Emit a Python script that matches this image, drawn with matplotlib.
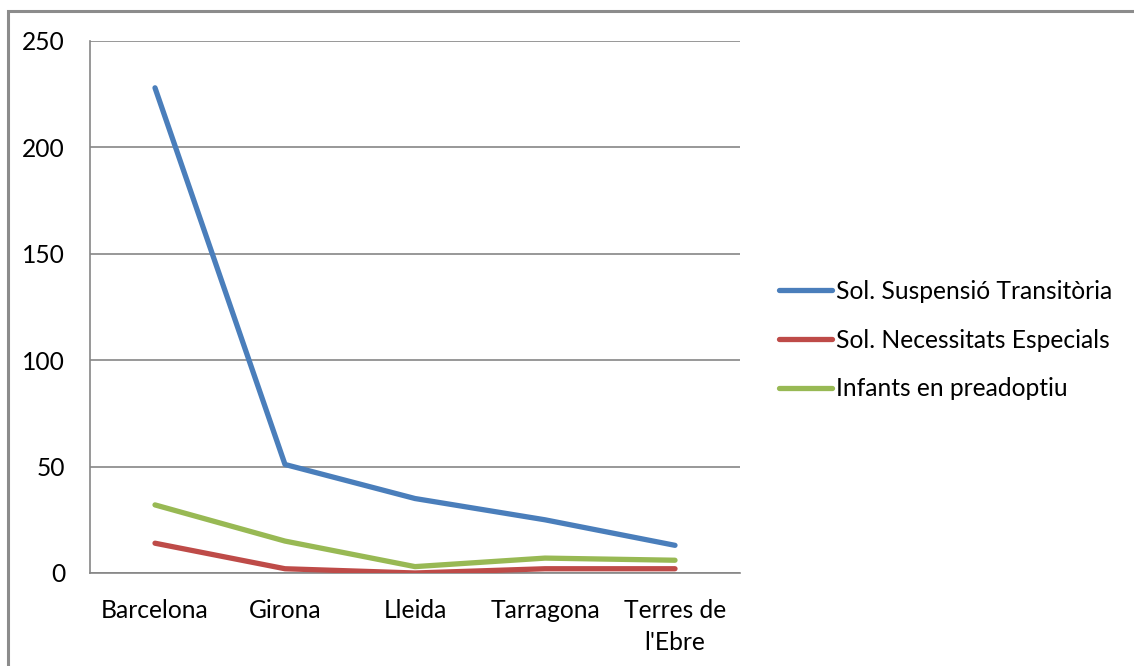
import matplotlib
matplotlib.use("Agg")
import matplotlib.pyplot as plt
from matplotlib.patches import Rectangle

categories = ["Barcelona", "Girona", "Lleida", "Tarragona", "Terres de\nl'Ebre"]
suspensio = [228, 51, 35, 25, 13]
necessitats = [14, 2, 0, 2, 2]
preadoptiu = [32, 15, 3, 7, 6]
series_names = ["Sol. Suspensió Transitòria", "Sol. Necessitats Especials", "Infants en preadoptiu"]
colors = ["#4A7EBB", "#BE4B48", "#98B954"]
yticks = [0, 50, 100, 150, 200, 250]

plt.rcParams['font.family'] = ['Lato', 'DejaVu Sans']
W, H = 1134, 666
FS = 17.7
fig = plt.figure(figsize=(W/100, H/100), dpi=100)
ax = fig.add_axes([90/W, 1 - 573/H, 650/W, 532/H])

# outer border
fig.patches.append(Rectangle((7.5/W, -0.1), 1.2, (H - 11)/H + 0.1, transform=fig.transFigure,
                             fill=False, edgecolor="#8C8C8C", linewidth=2.2, zorder=0))

x = list(range(len(categories)))
lines = []
for vals, name, c in zip([suspensio, necessitats, preadoptiu], series_names, colors):
    l, = ax.plot(x, vals, color=c, linewidth=3.8, solid_capstyle='round', solid_joinstyle='round',
                 label=name, zorder=3)
    lines.append(l)

ax.set_xlim(-0.5, len(categories) - 0.5)
ax.set_ylim(0, 250)
ax.set_yticks(yticks)
ax.set_yticklabels([str(v) for v in yticks])
ax.set_xticks(x)
ax.set_xticklabels(categories, linespacing=1.5)
ax.grid(axis='y', color='#868686', linewidth=1.2, zorder=0)
for s in ['top', 'right']:
    ax.spines[s].set_visible(False)
for s in ['left', 'bottom']:
    ax.spines[s].set_color('#868686')
    ax.spines[s].set_linewidth(1.2)
ax.tick_params(axis='both', length=0, labelsize=FS, colors='black')
ax.tick_params(axis='y', pad=18)
ax.tick_params(axis='x', pad=18.5)

leg = fig.legend(handles=lines, loc='center left', bbox_to_anchor=(779/W, 1 - 340/H),
                 frameon=False, fontsize=FS, handlelength=2.15, handletextpad=0.15,
                 labelspacing=1.05, borderaxespad=0, borderpad=0)

fig.savefig("out.png", dpi=100)
